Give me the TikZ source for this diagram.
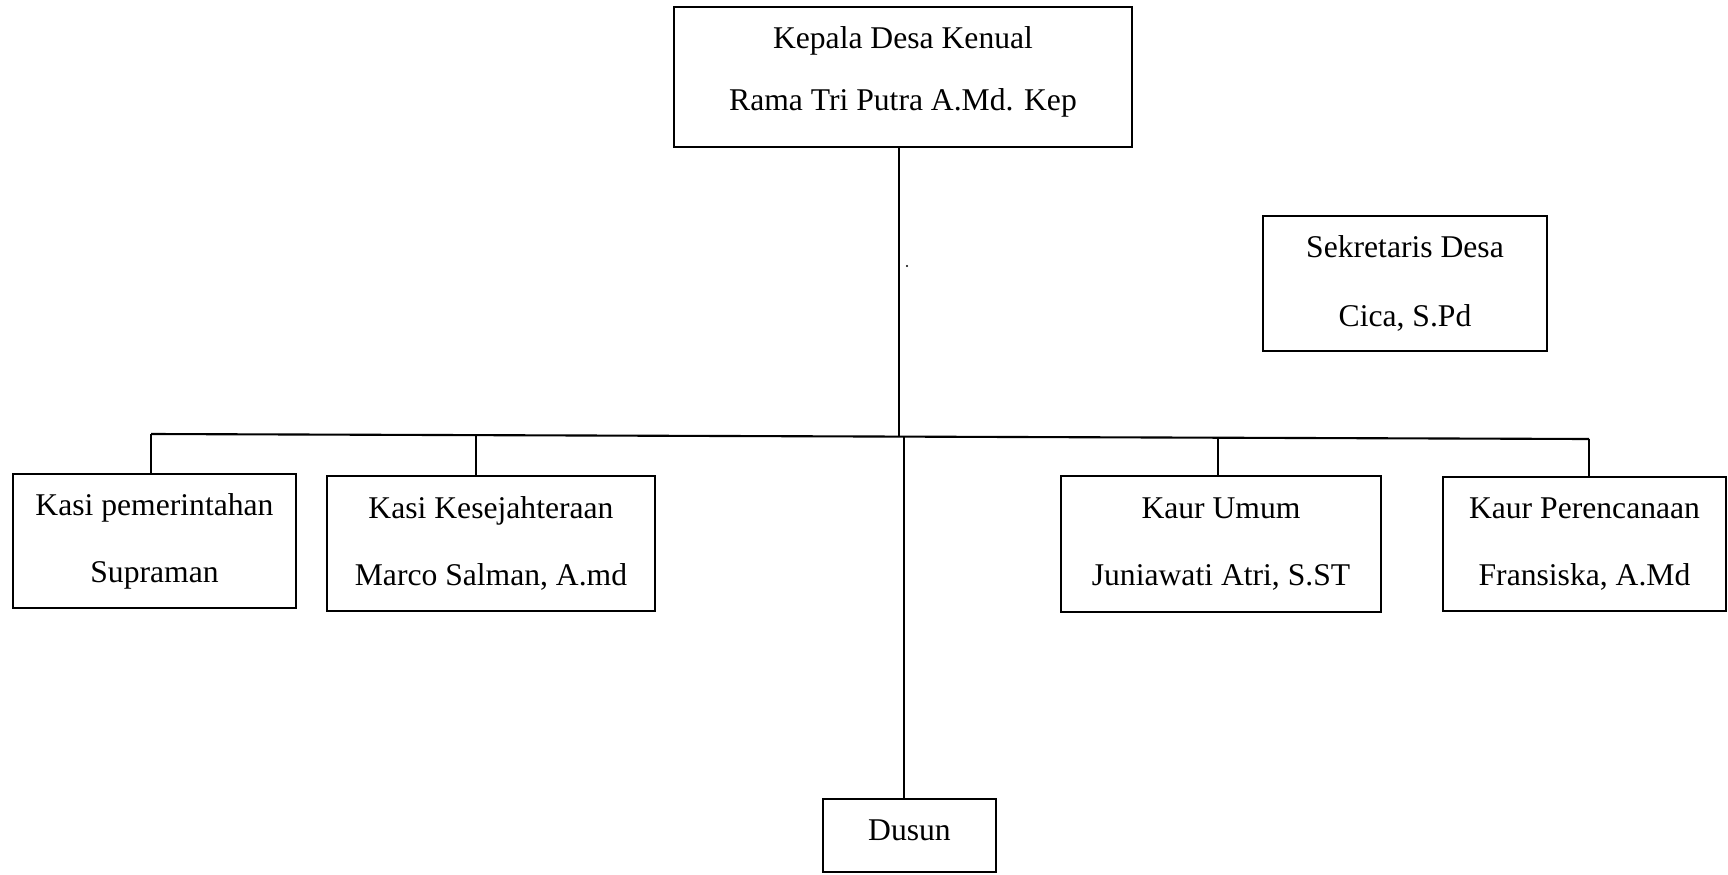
\documentclass[tikz,border=0pt]{standalone}
\usepackage{fontspec}
\setmainfont{Liberation Serif}
\usepackage{tikz}
\tikzset{
    x=0.1mm, y=-0.1mm,
    jabatan/.style={draw, line width=0.6pt, inner sep=0pt, align=center,
        font=\fontsize{9}{19}\selectfont},
    garis/.style={line width=0.6pt}
}

\begin{document}
\begin{tikzpicture}
\useasboundingbox (0,0) rectangle (1728,874);

\node[jabatan, minimum width=45.8mm, minimum height=14mm, text depth=1.7mm,
    font=\fontsize{9}{17.4}\selectfont] (kepala) at (903,77)
    {Kepala Desa Kenual\\Rama Tri Putra A.Md. Kep};
\node[jabatan, minimum width=28.4mm, minimum height=13.5mm,
    font=\fontsize{9}{19.6}\selectfont] (sekdes) at (1405,283.5)
    {Sekretaris Desa\\Cica, S.Pd};

\node[jabatan, minimum width=28.3mm, minimum height=13.4mm] (kasipem) at (154.5,541)
    {Kasi pemerintahan\\Supraman};
\node[jabatan, minimum width=32.8mm, minimum height=13.5mm] (kasikes) at (491,543.5)
    {Kasi Kesejahteraan\\Marco Salman, A.md};
\node[jabatan, minimum width=32mm, minimum height=13.6mm] (kaurumum) at (1221,544)
    {Kaur Umum\\Juniawati Atri, S.ST};
\node[jabatan, minimum width=28.3mm, minimum height=13.4mm] (kaurren) at (1584.5,544)
    {Kaur Perencanaan\\Fransiska, A.Md};
\node[jabatan, minimum width=17.3mm, minimum height=7.3mm, text depth=1mm] (dusun) at (909.5,835.5)
    {Dusun};

\coordinate (busL) at (151,434);
\coordinate (jkes) at (476,435.1);
\coordinate (jtop) at (899,436.6);
\coordinate (jdus) at (904,436.6);
\coordinate (jumum) at (1218,437.7);
\coordinate (busR) at (1589,439);

\draw[garis] (busL) -- (busR);
\draw[garis] (jtop |- kepala.south) -- (jtop);
\draw[garis] (jdus) -- (jdus |- dusun.north);
\draw[garis] (busL) -- (busL |- kasipem.north);
\draw[garis] (jkes) -- (jkes |- kasikes.north);
\draw[garis] (jumum) -- (jumum |- kaurumum.north);
\draw[garis] (busR) -- (busR |- kaurren.north);

\fill (907,266) circle (1.2);
\end{tikzpicture}
\end{document}
